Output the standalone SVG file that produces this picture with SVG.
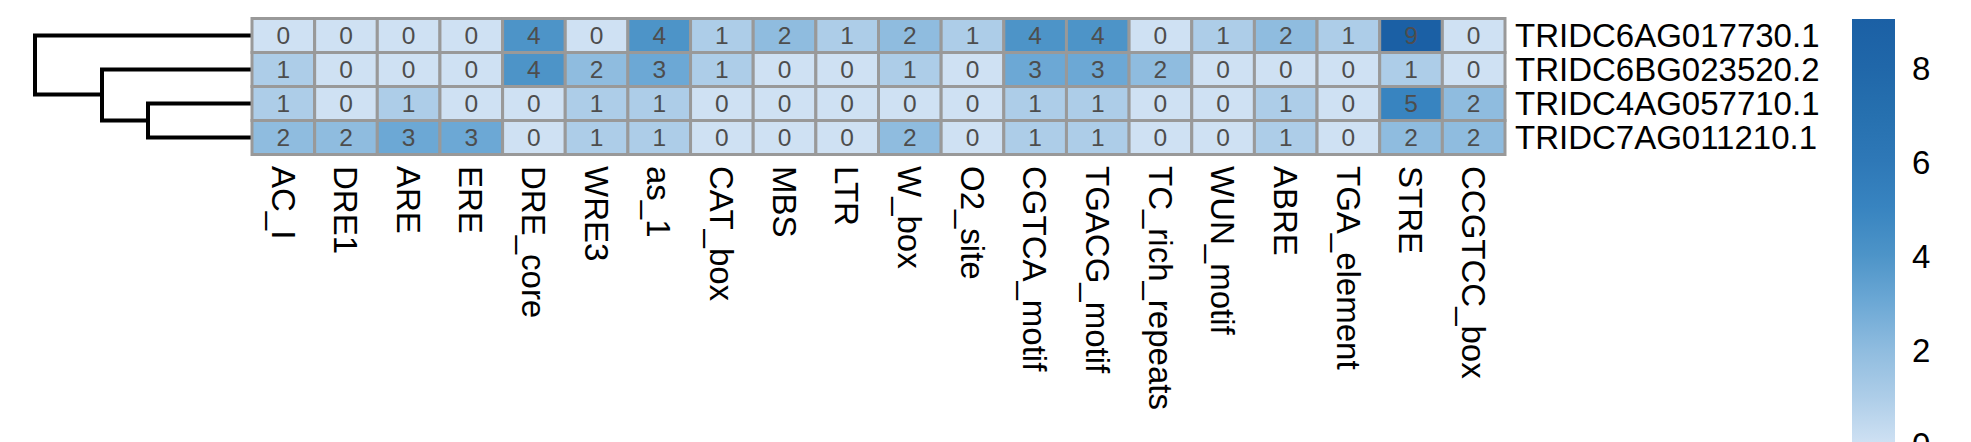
<svg xmlns="http://www.w3.org/2000/svg" width="1971" height="442" viewBox="0 0 1971 442">
<defs>
<style>
.cell{stroke:#999999;stroke-width:3}
.c0{fill:#CFE1F3}.c1{fill:#ADCDE8}.c2{fill:#8FBCDF}.c3{fill:#6CA8D5}.c4{fill:#4D94C8}.c5{fill:#3884C0}.c9{fill:#1B60A5}
.num{font-family:"Liberation Sans",Arial,sans-serif;font-size:24.5px;fill:#4D4D4D;text-anchor:middle}
.lab{font-family:"Liberation Sans",Arial,sans-serif;font-size:33px;fill:#000000}
.dend{fill:none;stroke:#000000;stroke-width:4;stroke-linecap:square;stroke-linejoin:miter}
</style>
<linearGradient id="bar" x1="0" y1="1" x2="0" y2="0">
<stop offset="0" stop-color="#CFE1F3"/>
<stop offset="0.111" stop-color="#ADCDE8"/>
<stop offset="0.222" stop-color="#8FBCDF"/>
<stop offset="0.333" stop-color="#6CA8D5"/>
<stop offset="0.444" stop-color="#4D94C8"/>
<stop offset="0.556" stop-color="#3884C0"/>
<stop offset="0.667" stop-color="#2E78B7"/>
<stop offset="0.778" stop-color="#2670AF"/>
<stop offset="0.889" stop-color="#2067A9"/>
<stop offset="1" stop-color="#1B60A5"/>
</linearGradient>
</defs>
<rect x="0" y="0" width="1971" height="442" fill="#ffffff"/>

<g id="connectors">
<path class="dend" d="M252,35.5 H35 V94.5 H102"/>
<path class="dend" d="M252,69.5 H102 V120.5 H148"/>
<path class="dend" d="M252,103.5 H148 V137.5 H252"/>
</g>

<g id="row1">
<rect class="cell c0" x="252" y="18.5" width="62.65" height="34"/>
<rect class="cell c0" x="314.65" y="18.5" width="62.65" height="34"/>
<rect class="cell c0" x="377.3" y="18.5" width="62.65" height="34"/>
<rect class="cell c0" x="439.95" y="18.5" width="62.65" height="34"/>
<rect class="cell c4" x="502.6" y="18.5" width="62.65" height="34"/>
<rect class="cell c0" x="565.25" y="18.5" width="62.65" height="34"/>
<rect class="cell c4" x="627.9" y="18.5" width="62.65" height="34"/>
<rect class="cell c1" x="690.55" y="18.5" width="62.65" height="34"/>
<rect class="cell c2" x="753.2" y="18.5" width="62.65" height="34"/>
<rect class="cell c1" x="815.85" y="18.5" width="62.65" height="34"/>
<rect class="cell c2" x="878.5" y="18.5" width="62.65" height="34"/>
<rect class="cell c1" x="941.15" y="18.5" width="62.65" height="34"/>
<rect class="cell c4" x="1003.8" y="18.5" width="62.65" height="34"/>
<rect class="cell c4" x="1066.45" y="18.5" width="62.65" height="34"/>
<rect class="cell c0" x="1129.1" y="18.5" width="62.65" height="34"/>
<rect class="cell c1" x="1191.75" y="18.5" width="62.65" height="34"/>
<rect class="cell c2" x="1254.4" y="18.5" width="62.65" height="34"/>
<rect class="cell c1" x="1317.05" y="18.5" width="62.65" height="34"/>
<rect class="cell c9" x="1379.7" y="18.5" width="62.65" height="34"/>
<rect class="cell c0" x="1442.35" y="18.5" width="62.65" height="34"/>
<text class="num" x="283.33" y="44.3">0</text>
<text class="num" x="345.98" y="44.3">0</text>
<text class="num" x="408.63" y="44.3">0</text>
<text class="num" x="471.28" y="44.3">0</text>
<text class="num" x="533.93" y="44.3">4</text>
<text class="num" x="596.58" y="44.3">0</text>
<text class="num" x="659.23" y="44.3">4</text>
<text class="num" x="721.88" y="44.3">1</text>
<text class="num" x="784.53" y="44.3">2</text>
<text class="num" x="847.18" y="44.3">1</text>
<text class="num" x="909.83" y="44.3">2</text>
<text class="num" x="972.48" y="44.3">1</text>
<text class="num" x="1035.13" y="44.3">4</text>
<text class="num" x="1097.78" y="44.3">4</text>
<text class="num" x="1160.43" y="44.3">0</text>
<text class="num" x="1223.08" y="44.3">1</text>
<text class="num" x="1285.73" y="44.3">2</text>
<text class="num" x="1348.38" y="44.3">1</text>
<text class="num" x="1411.03" y="44.3">9</text>
<text class="num" x="1473.68" y="44.3">0</text>
<text class="lab" x="1515" y="47.3">TRIDC6AG017730.1</text>
</g>

<g id="row2">
<rect class="cell c1" x="252" y="52.5" width="62.65" height="34"/>
<rect class="cell c0" x="314.65" y="52.5" width="62.65" height="34"/>
<rect class="cell c0" x="377.3" y="52.5" width="62.65" height="34"/>
<rect class="cell c0" x="439.95" y="52.5" width="62.65" height="34"/>
<rect class="cell c4" x="502.6" y="52.5" width="62.65" height="34"/>
<rect class="cell c2" x="565.25" y="52.5" width="62.65" height="34"/>
<rect class="cell c3" x="627.9" y="52.5" width="62.65" height="34"/>
<rect class="cell c1" x="690.55" y="52.5" width="62.65" height="34"/>
<rect class="cell c0" x="753.2" y="52.5" width="62.65" height="34"/>
<rect class="cell c0" x="815.85" y="52.5" width="62.65" height="34"/>
<rect class="cell c1" x="878.5" y="52.5" width="62.65" height="34"/>
<rect class="cell c0" x="941.15" y="52.5" width="62.65" height="34"/>
<rect class="cell c3" x="1003.8" y="52.5" width="62.65" height="34"/>
<rect class="cell c3" x="1066.45" y="52.5" width="62.65" height="34"/>
<rect class="cell c2" x="1129.1" y="52.5" width="62.65" height="34"/>
<rect class="cell c0" x="1191.75" y="52.5" width="62.65" height="34"/>
<rect class="cell c0" x="1254.4" y="52.5" width="62.65" height="34"/>
<rect class="cell c0" x="1317.05" y="52.5" width="62.65" height="34"/>
<rect class="cell c1" x="1379.7" y="52.5" width="62.65" height="34"/>
<rect class="cell c0" x="1442.35" y="52.5" width="62.65" height="34"/>
<text class="num" x="283.33" y="78.3">1</text>
<text class="num" x="345.98" y="78.3">0</text>
<text class="num" x="408.63" y="78.3">0</text>
<text class="num" x="471.28" y="78.3">0</text>
<text class="num" x="533.93" y="78.3">4</text>
<text class="num" x="596.58" y="78.3">2</text>
<text class="num" x="659.23" y="78.3">3</text>
<text class="num" x="721.88" y="78.3">1</text>
<text class="num" x="784.53" y="78.3">0</text>
<text class="num" x="847.18" y="78.3">0</text>
<text class="num" x="909.83" y="78.3">1</text>
<text class="num" x="972.48" y="78.3">0</text>
<text class="num" x="1035.13" y="78.3">3</text>
<text class="num" x="1097.78" y="78.3">3</text>
<text class="num" x="1160.43" y="78.3">2</text>
<text class="num" x="1223.08" y="78.3">0</text>
<text class="num" x="1285.73" y="78.3">0</text>
<text class="num" x="1348.38" y="78.3">0</text>
<text class="num" x="1411.03" y="78.3">1</text>
<text class="num" x="1473.68" y="78.3">0</text>
<text class="lab" x="1515" y="81.3">TRIDC6BG023520.2</text>
</g>

<g id="row3">
<rect class="cell c1" x="252" y="86.5" width="62.65" height="34"/>
<rect class="cell c0" x="314.65" y="86.5" width="62.65" height="34"/>
<rect class="cell c1" x="377.3" y="86.5" width="62.65" height="34"/>
<rect class="cell c0" x="439.95" y="86.5" width="62.65" height="34"/>
<rect class="cell c0" x="502.6" y="86.5" width="62.65" height="34"/>
<rect class="cell c1" x="565.25" y="86.5" width="62.65" height="34"/>
<rect class="cell c1" x="627.9" y="86.5" width="62.65" height="34"/>
<rect class="cell c0" x="690.55" y="86.5" width="62.65" height="34"/>
<rect class="cell c0" x="753.2" y="86.5" width="62.65" height="34"/>
<rect class="cell c0" x="815.85" y="86.5" width="62.65" height="34"/>
<rect class="cell c0" x="878.5" y="86.5" width="62.65" height="34"/>
<rect class="cell c0" x="941.15" y="86.5" width="62.65" height="34"/>
<rect class="cell c1" x="1003.8" y="86.5" width="62.65" height="34"/>
<rect class="cell c1" x="1066.45" y="86.5" width="62.65" height="34"/>
<rect class="cell c0" x="1129.1" y="86.5" width="62.65" height="34"/>
<rect class="cell c0" x="1191.75" y="86.5" width="62.65" height="34"/>
<rect class="cell c1" x="1254.4" y="86.5" width="62.65" height="34"/>
<rect class="cell c0" x="1317.05" y="86.5" width="62.65" height="34"/>
<rect class="cell c5" x="1379.7" y="86.5" width="62.65" height="34"/>
<rect class="cell c2" x="1442.35" y="86.5" width="62.65" height="34"/>
<text class="num" x="283.33" y="112.3">1</text>
<text class="num" x="345.98" y="112.3">0</text>
<text class="num" x="408.63" y="112.3">1</text>
<text class="num" x="471.28" y="112.3">0</text>
<text class="num" x="533.93" y="112.3">0</text>
<text class="num" x="596.58" y="112.3">1</text>
<text class="num" x="659.23" y="112.3">1</text>
<text class="num" x="721.88" y="112.3">0</text>
<text class="num" x="784.53" y="112.3">0</text>
<text class="num" x="847.18" y="112.3">0</text>
<text class="num" x="909.83" y="112.3">0</text>
<text class="num" x="972.48" y="112.3">0</text>
<text class="num" x="1035.13" y="112.3">1</text>
<text class="num" x="1097.78" y="112.3">1</text>
<text class="num" x="1160.43" y="112.3">0</text>
<text class="num" x="1223.08" y="112.3">0</text>
<text class="num" x="1285.73" y="112.3">1</text>
<text class="num" x="1348.38" y="112.3">0</text>
<text class="num" x="1411.03" y="112.3">5</text>
<text class="num" x="1473.68" y="112.3">2</text>
<text class="lab" x="1515" y="115.3">TRIDC4AG057710.1</text>
</g>

<g id="row4">
<rect class="cell c2" x="252" y="120.5" width="62.65" height="34"/>
<rect class="cell c2" x="314.65" y="120.5" width="62.65" height="34"/>
<rect class="cell c3" x="377.3" y="120.5" width="62.65" height="34"/>
<rect class="cell c3" x="439.95" y="120.5" width="62.65" height="34"/>
<rect class="cell c0" x="502.6" y="120.5" width="62.65" height="34"/>
<rect class="cell c1" x="565.25" y="120.5" width="62.65" height="34"/>
<rect class="cell c1" x="627.9" y="120.5" width="62.65" height="34"/>
<rect class="cell c0" x="690.55" y="120.5" width="62.65" height="34"/>
<rect class="cell c0" x="753.2" y="120.5" width="62.65" height="34"/>
<rect class="cell c0" x="815.85" y="120.5" width="62.65" height="34"/>
<rect class="cell c2" x="878.5" y="120.5" width="62.65" height="34"/>
<rect class="cell c0" x="941.15" y="120.5" width="62.65" height="34"/>
<rect class="cell c1" x="1003.8" y="120.5" width="62.65" height="34"/>
<rect class="cell c1" x="1066.45" y="120.5" width="62.65" height="34"/>
<rect class="cell c0" x="1129.1" y="120.5" width="62.65" height="34"/>
<rect class="cell c0" x="1191.75" y="120.5" width="62.65" height="34"/>
<rect class="cell c1" x="1254.4" y="120.5" width="62.65" height="34"/>
<rect class="cell c0" x="1317.05" y="120.5" width="62.65" height="34"/>
<rect class="cell c2" x="1379.7" y="120.5" width="62.65" height="34"/>
<rect class="cell c2" x="1442.35" y="120.5" width="62.65" height="34"/>
<text class="num" x="283.33" y="146.3">2</text>
<text class="num" x="345.98" y="146.3">2</text>
<text class="num" x="408.63" y="146.3">3</text>
<text class="num" x="471.28" y="146.3">3</text>
<text class="num" x="533.93" y="146.3">0</text>
<text class="num" x="596.58" y="146.3">1</text>
<text class="num" x="659.23" y="146.3">1</text>
<text class="num" x="721.88" y="146.3">0</text>
<text class="num" x="784.53" y="146.3">0</text>
<text class="num" x="847.18" y="146.3">0</text>
<text class="num" x="909.83" y="146.3">2</text>
<text class="num" x="972.48" y="146.3">0</text>
<text class="num" x="1035.13" y="146.3">1</text>
<text class="num" x="1097.78" y="146.3">1</text>
<text class="num" x="1160.43" y="146.3">0</text>
<text class="num" x="1223.08" y="146.3">0</text>
<text class="num" x="1285.73" y="146.3">1</text>
<text class="num" x="1348.38" y="146.3">0</text>
<text class="num" x="1411.03" y="146.3">2</text>
<text class="num" x="1473.68" y="146.3">2</text>
<text class="lab" x="1515" y="149.3">TRIDC7AG011210.1</text>
</g>

<g id="column-labels">
<text class="lab" transform="translate(271.5,166) rotate(90)">AC_I</text>
<text class="lab" transform="translate(334.15,166) rotate(90)">DRE1</text>
<text class="lab" transform="translate(396.8,166) rotate(90)">ARE</text>
<text class="lab" transform="translate(459.45,166) rotate(90)">ERE</text>
<text class="lab" transform="translate(522.1,166) rotate(90)">DRE_core</text>
<text class="lab" transform="translate(584.75,166) rotate(90)">WRE3</text>
<text class="lab" transform="translate(647.4,166) rotate(90)">as_1</text>
<text class="lab" transform="translate(710.05,166) rotate(90)">CAT_box</text>
<text class="lab" transform="translate(772.7,166) rotate(90)">MBS</text>
<text class="lab" transform="translate(835.35,166) rotate(90)">LTR</text>
<text class="lab" transform="translate(898,166) rotate(90)">W_box</text>
<text class="lab" transform="translate(960.65,166) rotate(90)">O2_site</text>
<text class="lab" transform="translate(1023.3,166) rotate(90)">CGTCA_motif</text>
<text class="lab" transform="translate(1085.95,166) rotate(90)">TGACG_motif</text>
<text class="lab" transform="translate(1148.6,166) rotate(90)">TC_rich_repeats</text>
<text class="lab" transform="translate(1211.25,166) rotate(90)">WUN_motif</text>
<text class="lab" transform="translate(1273.9,166) rotate(90)">ABRE</text>
<text class="lab" transform="translate(1336.55,166) rotate(90)">TGA_element</text>
<text class="lab" transform="translate(1399.2,166) rotate(90)">STRE</text>
<text class="lab" transform="translate(1461.85,166) rotate(90)">CCGTCC_box</text>
</g>

<g id="legend">
<rect x="1852" y="19" width="43" height="425" fill="url(#bar)"/>
<text class="lab" x="1912" y="79.5">8</text>
<text class="lab" x="1912" y="173.5">6</text>
<text class="lab" x="1912" y="267.5">4</text>
<text class="lab" x="1912" y="361.5">2</text>
<text class="lab" x="1912" y="455.5">0</text>
</g>
</svg>
